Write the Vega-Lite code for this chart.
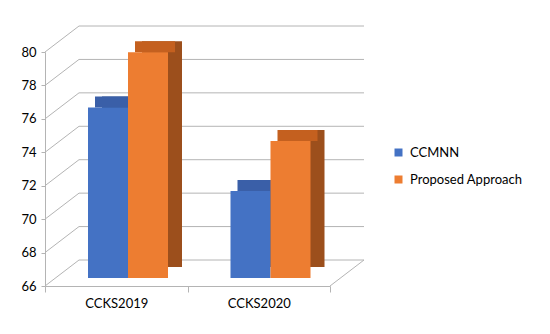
{
  "$schema": "https://vega.github.io/schema/vega-lite/v6.json",
  "autosize": {"type": "none"},
  "padding": {"left": 45, "top": 52, "right": 220, "bottom": 48},
  "width": 285,
  "height": 234,
  "background": "white",
  "config": {
    "view": {"stroke": null},
    "font": "Lato",
    "axisY": {"labelOverlap": false, "grid": false, "domainColor": "#B4B4B4", "tickColor": "#B4B4B4", "tickSize": 4, "labelFontSize": 13, "labelColor": "#000000", "labelPadding": 5, "labelFlush": false}
  },
  "datasets": {
    "results": [
      {"dataset": "CCKS2019", "model": "CCMNN", "f1": 76.2},
      {"dataset": "CCKS2019", "model": "Proposed Approach", "f1": 79.5},
      {"dataset": "CCKS2020", "model": "CCMNN", "f1": 71.2},
      {"dataset": "CCKS2020", "model": "Proposed Approach", "f1": 74.2}
    ],
    "ticks": [
      {"tick": 66}, {"tick": 68}, {"tick": 70}, {"tick": 72},
      {"tick": 74}, {"tick": 76}, {"tick": 78}, {"tick": 80}
    ]
  },
  "resolve": {"scale": {"x": "independent", "xOffset": "independent", "color": "independent"}, "axis": {"x": "independent"}},
  "layer": [
    {
      "data": {"name": "ticks"},
      "mark": {"type": "rule", "color": "#B4B4B4", "strokeWidth": 1, "xOffset": 34, "x2Offset": 34, "yOffset": -26},
      "encoding": {
        "x": {"datum": 0, "type": "quantitative", "scale": {"domain": [0, 1]}, "axis": null},
        "x2": {"datum": 1},
        "y": {"field": "tick", "type": "quantitative", "scale": {"domain": [66, 80], "zero": false, "nice": false}, "title": null, "axis": {"values": [66, 68, 70, 72, 74, 76, 78, 80], "labelOverlap": false, "title": null}}
      }
    },
    {
      "data": {"name": "ticks"},
      "mark": {"type": "rule", "color": "#B4B4B4", "strokeWidth": 1, "x2Offset": 34, "y2Offset": -26},
      "encoding": {
        "x": {"datum": 0, "type": "quantitative", "scale": {"domain": [0, 1]}, "axis": null},
        "x2": {"datum": 0},
        "y": {"field": "tick", "type": "quantitative", "title": null, "axis": {"values": [66, 68, 70, 72, 74, 76, 78, 80], "labelOverlap": false, "title": null}},
        "y2": {"field": "tick"}
      }
    },
    {
      "data": {"name": "ticks"},
      "transform": [{"filter": "datum.tick == 66"}],
      "mark": {"type": "rule", "color": "#B4B4B4", "strokeWidth": 1, "x2Offset": 34, "y2Offset": -26},
      "encoding": {
        "x": {"datum": 1, "type": "quantitative", "scale": {"domain": [0, 1]}, "axis": null},
        "x2": {"datum": 1},
        "y": {"field": "tick", "type": "quantitative", "title": null, "axis": {"values": [66, 68, 70, 72, 74, 76, 78, 80], "labelOverlap": false, "title": null}},
        "y2": {"field": "tick"}
      }
    },
    {
      "data": {"name": "results"},
      "mark": {"type": "bar", "yOffset": -19, "y2Offset": -19},
      "encoding": {
        "x": {"field": "dataset", "type": "nominal", "scale": {"paddingInner": 0, "paddingOuter": 0}, "axis": null},
        "xOffset": {"field": "model", "type": "nominal", "scale": {"paddingInner": 0, "paddingOuter": 0, "range": [57, 137]}},
        "y": {"field": "f1", "type": "quantitative", "title": null, "axis": {"values": [66, 68, 70, 72, 74, 76, 78, 80], "labelOverlap": false, "title": null}},
        "y2": {"datum": 66},
        "color": {"field": "model", "type": "nominal", "scale": {"domain": ["CCMNN", "Proposed Approach"], "range": ["#2F528F", "#9C4F1C"]}, "legend": null}
      }
    },
    {
      "data": {"name": "results"},
      "mark": {"type": "bar", "yOffset": -19, "y2Offset": -8},
      "encoding": {
        "x": {"field": "dataset", "type": "nominal", "scale": {"paddingInner": 0, "paddingOuter": 0}, "axis": null},
        "xOffset": {"field": "model", "type": "nominal", "scale": {"paddingInner": 0, "paddingOuter": 0, "range": [50, 130]}},
        "y": {"field": "f1", "type": "quantitative", "title": null, "axis": {"values": [66, 68, 70, 72, 74, 76, 78, 80], "labelOverlap": false, "title": null}},
        "y2": {"field": "f1"},
        "color": {"field": "model", "type": "nominal", "scale": {"domain": ["CCMNN", "Proposed Approach"], "range": ["#3A5FA8", "#C4601F"]}, "legend": null}
      }
    },
    {
      "data": {"name": "results"},
      "mark": {"type": "bar", "yOffset": -8, "y2Offset": -8},
      "encoding": {
        "x": {
          "field": "dataset", "type": "nominal",
          "scale": {"paddingInner": 0, "paddingOuter": 0},
          "axis": {"title": null, "labelAngle": 0, "tickBand": "extent", "domainColor": "#B4B4B4", "tickColor": "#B4B4B4", "tickSize": 6, "labelFontSize": 13, "labelColor": "#000000", "labelPadding": 5, "grid": false}
        },
        "xOffset": {"field": "model", "type": "nominal", "scale": {"paddingInner": 0, "paddingOuter": 0, "range": [43, 123]}},
        "y": {"field": "f1", "type": "quantitative", "title": null, "axis": {"values": [66, 68, 70, 72, 74, 76, 78, 80], "labelOverlap": false, "title": null}},
        "y2": {"datum": 66},
        "color": {
          "field": "model", "type": "nominal",
          "scale": {"domain": ["CCMNN", "Proposed Approach"], "range": ["#4472C4", "#ED7D31"]},
          "legend": {"title": null, "orient": "none", "legendX": 347, "legendY": 94, "symbolType": "square", "symbolSize": 64, "symbolStrokeWidth": 0, "labelFontSize": 13, "labelColor": "#000000", "rowPadding": 13, "labelOffset": 5}
        }
      }
    }
  ]
}
